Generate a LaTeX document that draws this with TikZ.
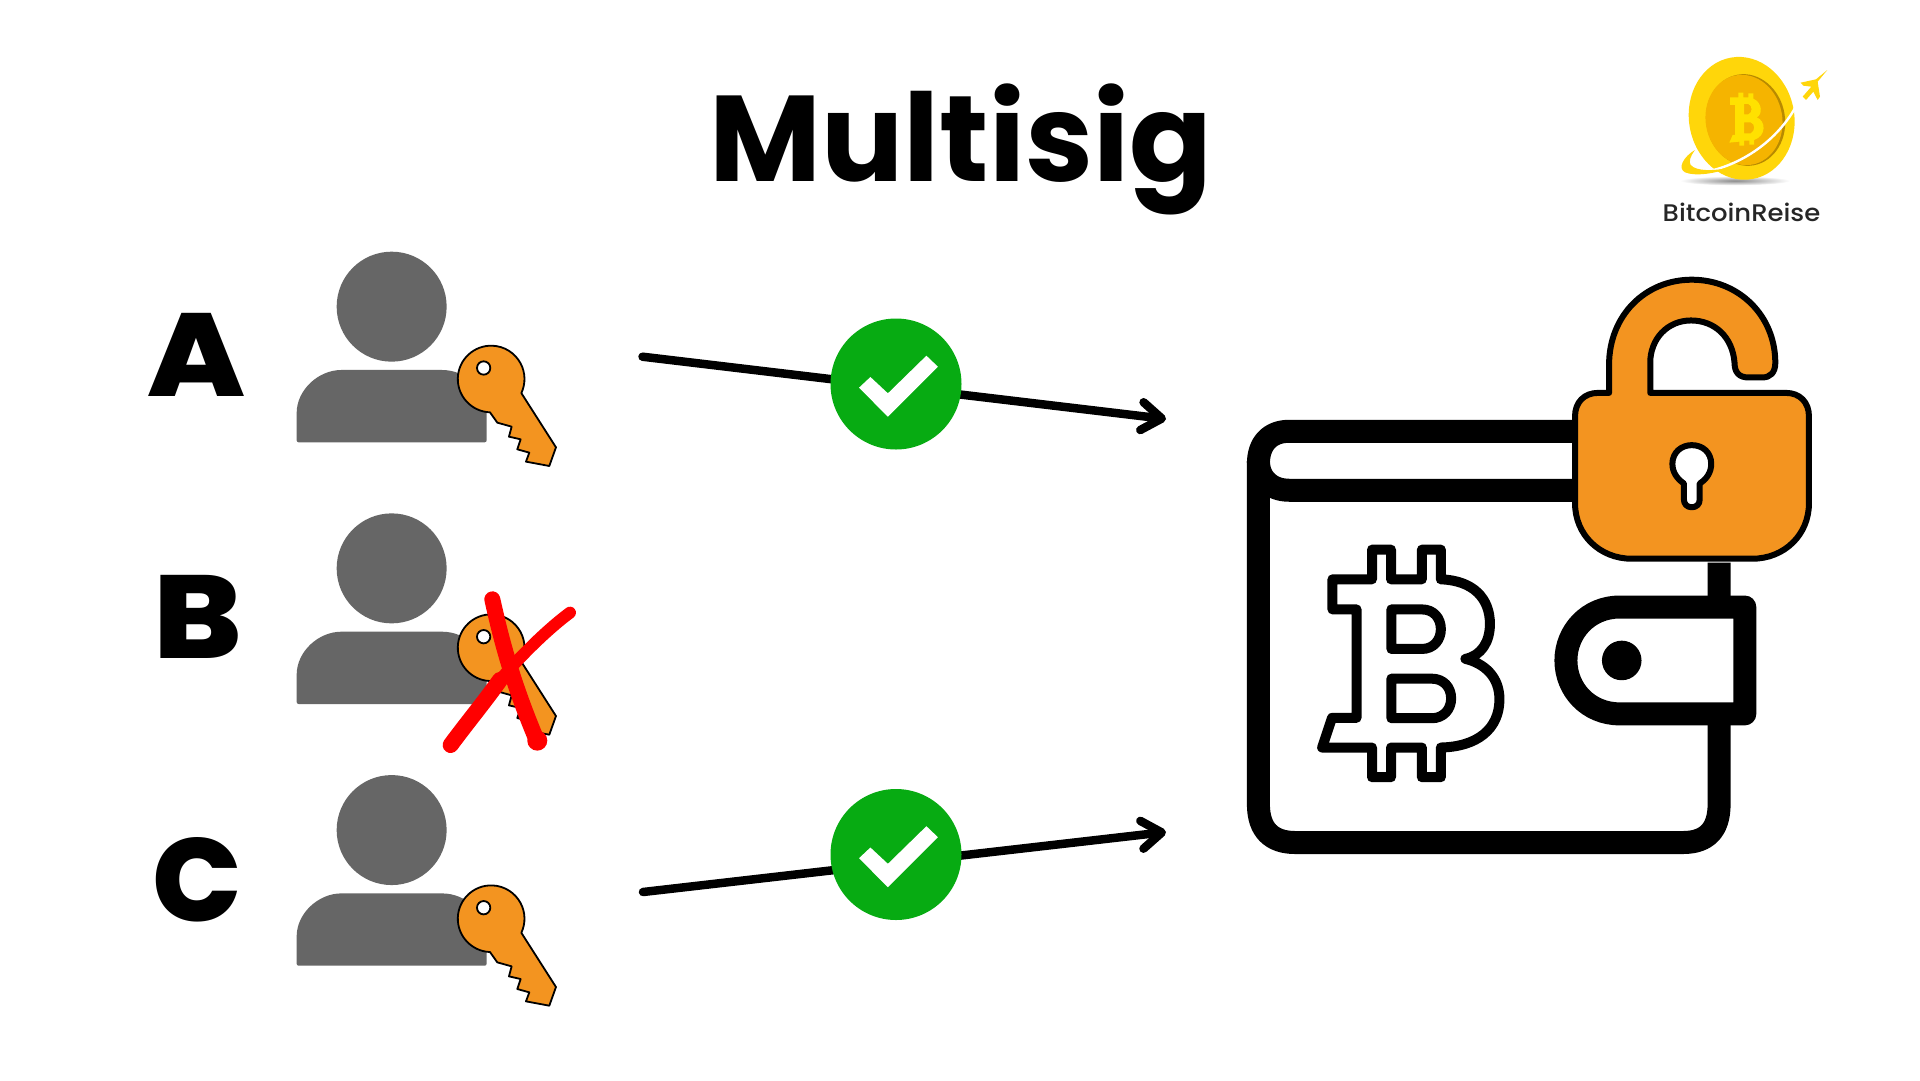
\documentclass[tikz,border=0pt]{standalone}
\usepackage{fontspec}
\setmainfont{Poppins}
\newfontfamily\logofont{Poppins Medium}
\newfontfamily\heavyfont{Poppins ExtraBold}
\usetikzlibrary{arrows.meta}
\definecolor{persongray}{HTML}{666666}
\definecolor{keyorange}{HTML}{F39420}
\definecolor{okgreen}{HTML}{07AB12}
\definecolor{coinyellow}{HTML}{FFD60A}
\definecolor{coindisc}{HTML}{F5B400}
\definecolor{coinedge}{HTML}{B88A00}
\definecolor{coinmark}{HTML}{FFE100}
\tikzset{
  personshape/.style={fill=persongray},
  keyshape/.style={fill=keyorange,draw=black,line width=1.8pt,line join=round},
  letterlabel/.style={font=\heavyfont\fontsize{118}{118}\selectfont,inner sep=0pt,text=black},
  sigline/.style={line width=8.5pt,line cap=round,black,-{Straight Barb[length=20pt,width=28pt,line width=8.5pt,round]}},
  okmark/.style={circle,fill=okgreen,minimum size=131pt,inner sep=0pt},
  walletline/.style={line width=23pt,line join=round,line cap=butt},
  btcline/.style={line width=10pt,line join=round},
  lockline/.style={line width=6pt,line join=round,draw=black},
  personicon/.pic={
    \begin{scope}[shift={(280,240)},x=0.3333pt,y=-0.3333pt]
      \fill[personshape] (335,200) circle [radius=165];
      \fill[personshape,rounded corners=2pt] (50,607) -- (50,525)
        .. controls (50,450) and (115,390) .. (190,390) -- (480,390)
        .. controls (560,390) and (620,450) .. (620,525) -- (620,607) -- cycle;
    \end{scope}
  },
  keyicon/.pic={
    \begin{scope}[shift={(280,240)},x=0.3333pt,y=-0.3333pt]
      \draw[keyshape] (630,517) arc [start angle=92,end angle=385,radius=100]
        -- (828,622) -- (808,678) -- (738,665) -- (748,638) -- (712,628)
        -- (722,598) -- (687,590) -- (695,560) -- (652,548) -- cycle;
      \draw[fill=white,draw=black,line width=1.8pt] (611,384) circle [radius=20];
    \end{scope}
  }
}
\begin{document}
\begin{tikzpicture}[x=1pt,y=-1pt]
\useasboundingbox (0,0) rectangle (1920,1080);
\fill[white] (0,0) rectangle (1920,1080);

% title
\node[anchor=base,inner sep=0pt,font=\fontsize{122}{122}\selectfont\bfseries] (title) at (961,181) {Multisig};

% logo
\begin{scope}[shift={(1640,40)},x=0.3333pt,y=-0.3333pt]
  \shade[inner color=black!45,outer color=white] (285,422) ellipse [x radius=165,y radius=14];
  \fill[coinyellow,rotate around={10:(305,235)}] (305,235) ellipse [x radius=158,y radius=185];
  \fill[coinedge,rotate around={10:(317,240)}] (317,240) ellipse [x radius=118,y radius=138];
  \fill[coindisc,rotate around={10:(312,240)}] (312,240) ellipse [x radius=115,y radius=136];
  \fill[coinmark,even odd rule]
    (270,172) -- (295,172) -- (295,158) -- (310,158) -- (310,172) -- (325,172) -- (325,160) -- (340,160) -- (340,176)
    .. controls (368,188) and (368,225) .. (350,232)
    .. controls (378,242) and (380,288) .. (342,300)
    -- (342,314) -- (328,314) -- (328,302) -- (312,302) -- (312,317) -- (298,317) -- (298,305) -- (268,308)
    -- (278,285) -- (285,285) -- (285,195) -- (270,195) -- cycle
    (312,192) -- (325,192) .. controls (338,197) and (338,218) .. (325,223) -- (312,223) -- cycle
    (312,247) -- (332,247) .. controls (346,252) and (346,273) .. (332,280) -- (312,280) -- cycle;
  \draw[white,line width=2.4pt] (470,195) .. controls (420,290) and (320,370) .. (200,395);
  \fill[coinyellow] (165,330) .. controls (130,350) and (112,385) .. (135,397)
    .. controls (165,410) and (230,400) .. (262,385)
    .. controls (220,392) and (170,395) .. (152,375)
    .. controls (146,365) and (150,350) .. (165,330) -- cycle;
  \fill[coinyellow] (562,90) -- (528,118) -- (482,128) -- (490,137) -- (514,140) -- (488,170)
    -- (498,180) -- (520,155) -- (533,180) -- (540,170) -- (533,125) -- cycle;
\end{scope}
\node[anchor=base,inner sep=0pt,text=black!85,xscale=1.08,font=\logofont\fontsize{24}{24}\selectfont] (logotext) at (1741.5,221.5) {BitcoinReise};

% letters
\node[letterlabel,xscale=1.1] (la) at (196,355) {A};
\node[letterlabel,xscale=1.12] (lb) at (198,617) {B};
\node[letterlabel] (lc) at (197,880) {C};

% people with keys
\pic (pa) at (0,0) {personicon};
\pic (pb) at (0,261.7) {personicon};
\pic (pc) at (0,523.4) {personicon};
\pic (ka) at (0,0) {keyicon};
\pic (kb) at (0,268.7) {keyicon};
\pic (kc) at (0,539.7) {keyicon};

% red cross on B's key
\begin{scope}[shift={(280,490)},x=0.3333pt,y=-0.3333pt]
  \draw[red,line width=12pt,line cap=round] (870,368) .. controls (800,420) and (720,500) .. (660,570);
  \draw[red,line width=16pt,line cap=round] (660,570) .. controls (610,640) and (560,700) .. (512,765);
  \draw[red,line width=16pt,line cap=round] (637,328) .. controls (660,430) and (690,560) .. (770,750);
  \fill[red] (772,752) circle [radius=30];
\end{scope}

% connectors
\coordinate (a1) at (642.5,356.7);
\coordinate (a2) at (1166,419);
\coordinate (c1) at (643,892);
\coordinate (c2) at (1166,832);
\draw[sigline] (a1) -- (a2);
\draw[sigline] (c1) -- (c2);

% check marks
\node[okmark] (oka) at (896,384) {};
\node[okmark] (okc) at (896,854.5) {};
\fill[white] ([shift={(-37,3.7)}]oka.center) -- ++(11.4,-10.7) -- ++(17.5,16.3) -- ++(38.5,-37.6) -- ++(11.5,11) -- ++(-50,50) -- cycle;
\fill[white] ([shift={(-37,3.7)}]okc.center) -- ++(11.4,-10.7) -- ++(17.5,16.3) -- ++(38.5,-37.6) -- ++(11.5,11) -- ++(-50,50) -- cycle;

% wallet
\begin{scope}[shift={(1220,250)},x=0.3958pt,y=-0.3958pt]
  \draw[walletline,fill=white] (890,458) -- (175,458)
     .. controls (125,458) and (97,490) .. (97,540) -- (97,1400)
     .. controls (97,1465) and (130,1497) .. (190,1497) -- (1170,1497)
     .. controls (1230,1497) and (1261,1465) .. (1261,1400) -- (1261,790);
  \draw[walletline] (97,532) .. controls (97,580) and (130,607) .. (175,607) -- (890,607);
  % clasp
  \draw[walletline,fill=white] (1326,902) -- (1010,902)
     .. controls (930,902) and (874,965) .. (874,1037)
     .. controls (874,1110) and (930,1172) .. (1010,1172) -- (1326,1172) -- cycle;
  \fill[black] (1015,1037) circle [radius=50];
  % bitcoin sign
  \draw[btcline] (384,757) -- (432,757) -- (432,832) -- (510,832) -- (510,757) -- (558,757) -- (558,832)
     .. controls (640,835) and (682,880) .. (682,945)
     .. controls (682,990) and (660,1025) .. (620,1033)
     .. controls (670,1045) and (706,1080) .. (706,1135)
     .. controls (706,1210) and (650,1255) .. (558,1257)
     -- (558,1332) -- (510,1332) -- (510,1257) -- (432,1257) -- (432,1332) -- (384,1332) -- (384,1257)
     -- (258,1257) -- (283,1182) -- (345,1182) -- (345,908) -- (284,908) -- (284,832) -- (384,832) -- cycle;
  \draw[btcline] (433,908) -- (510,908) .. controls (540,908) and (558,930) .. (558,958)
     .. controls (558,985) and (540,1008) .. (510,1008) -- (433,1008) -- cycle;
  \draw[btcline] (433,1083) -- (535,1083) .. controls (565,1083) and (584,1105) .. (584,1133)
     .. controls (584,1160) and (565,1183) .. (535,1183) -- (433,1183) -- cycle;
  % padlock
  \draw[lockline,fill=keyorange] (983,361) -- (983,290)
     .. controls (983,165) and (1075,75) .. (1192,75)
     .. controls (1310,75) and (1403,165) .. (1403,285)
     .. controls (1403,310) and (1390,322) .. (1370,322) -- (1335,322)
     .. controls (1312,322) and (1300,310) .. (1300,285)
     .. controls (1295,220) and (1250,178) .. (1190,178)
     .. controls (1130,178) and (1087,225) .. (1087,285) -- (1087,361)
     -- (1430,361) .. controls (1465,361) and (1488,385) .. (1488,420)
     -- (1488,640) .. controls (1488,720) and (1425,780) .. (1345,780)
     -- (1040,780) .. controls (960,780) and (897,720) .. (897,640)
     -- (897,420) .. controls (897,385) and (920,361) .. (955,361) -- cycle;
  \draw[lockline,fill=white] (1172,590) .. controls (1155,578) and (1143,562) .. (1143,540)
     .. controls (1143,512) and (1165,493) .. (1192,493)
     .. controls (1220,493) and (1241,512) .. (1241,540)
     .. controls (1241,562) and (1230,578) .. (1212,590) -- (1212,630)
     .. controls (1212,642) and (1204,650) .. (1192,650)
     .. controls (1180,650) and (1172,642) .. (1172,630) -- cycle;
\end{scope}
\end{tikzpicture}
\end{document}
